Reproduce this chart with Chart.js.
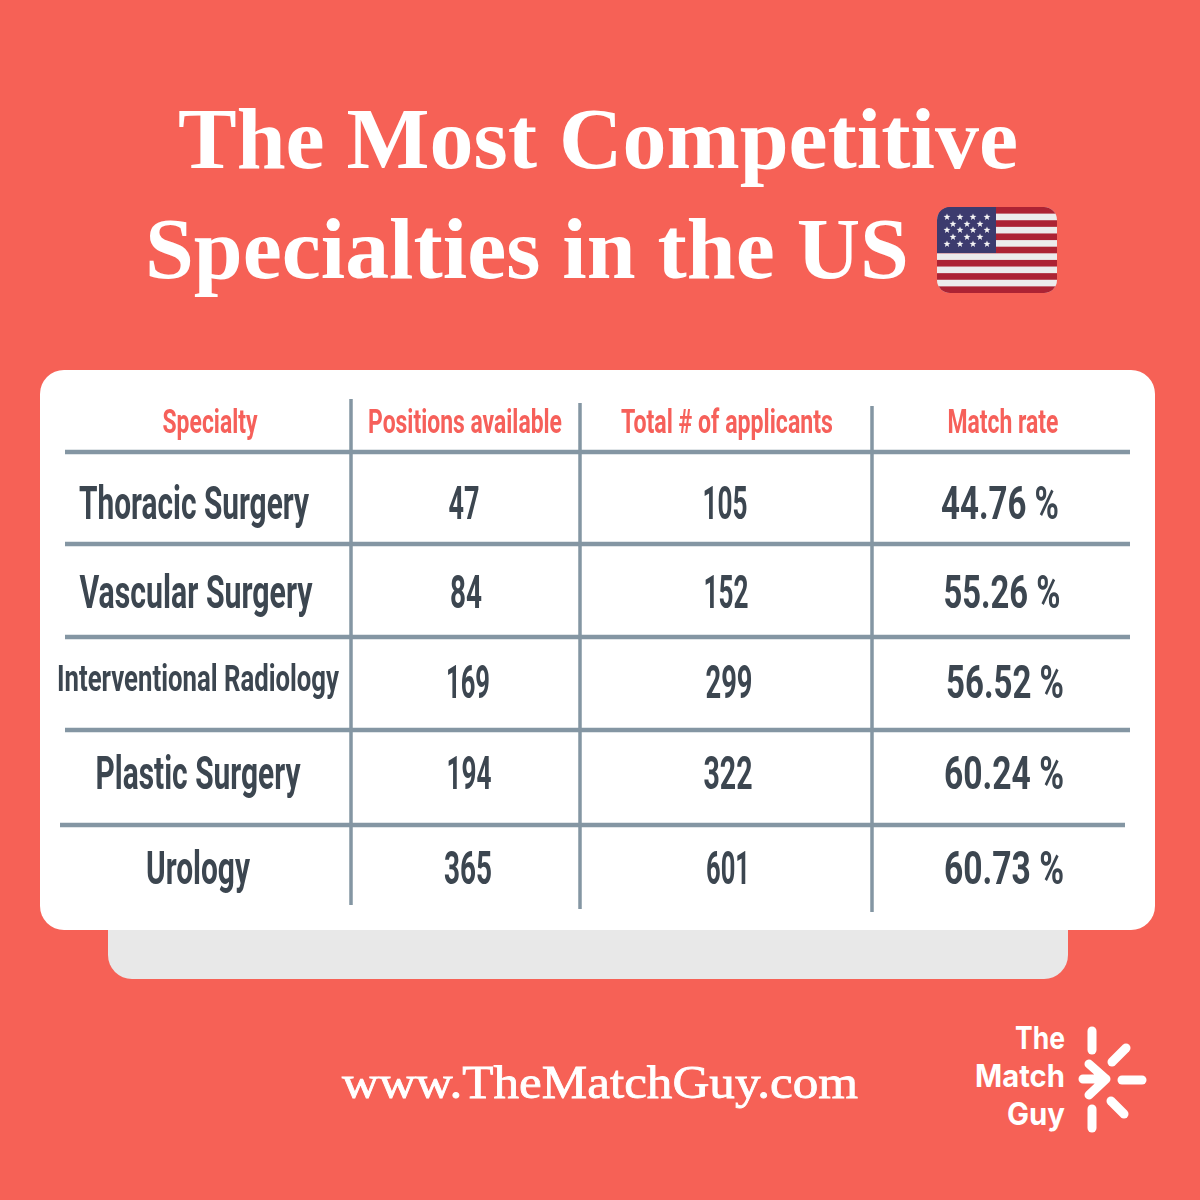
<!DOCTYPE html>
<html>
<head>
<meta charset="utf-8">
<title>The Most Competitive Specialties in the US</title>
<script src="https://cdn.jsdelivr.net/npm/chart.js@4"></script>
<style>
    html, body { margin: 0; padding: 0; width: 1200px; height: 1200px; overflow: hidden; background: #f66156; }
    #decor, #table-chart { position: absolute; left: 0; top: 0; }
    .serif { font-family: "Liberation Serif", serif; fill: #ffffff; }
    .logo { font-family: Inter, Roboto, sans-serif; font-weight: 700; font-size: 31px; fill: #ffffff; }
</style>
</head>
<body>
<svg id="decor" width="1200" height="1200" viewBox="0 0 1200 1200">
    <rect x="108" y="880" width="960" height="99" rx="24" fill="#e8e8e8"/>
    <rect x="40" y="370" width="1115" height="560" rx="24" fill="#ffffff"/>

    <text class="serif" x="178" y="168" font-size="86" font-weight="700" textLength="840" lengthAdjust="spacingAndGlyphs">The Most Competitive</text>
    <text class="serif" x="145" y="278" font-size="86" font-weight="700" textLength="764" lengthAdjust="spacingAndGlyphs">Specialties in the US</text>

    <clipPath id="flag-clip"><rect x="937" y="207" width="120" height="86" rx="13"/></clipPath>
    <g id="flag" clip-path="url(#flag-clip)">
        <rect x="937" y="207" width="120" height="86" fill="#ececec"/>
    </g>

    <text class="serif" x="342" y="1098" font-size="46" textLength="516" lengthAdjust="spacingAndGlyphs" stroke="#ffffff" stroke-width="0.8">www.TheMatchGuy.com</text>

    <text class="logo" x="1065" y="1049" text-anchor="end" textLength="50" lengthAdjust="spacingAndGlyphs">The</text>
    <text class="logo" x="1065" y="1087" text-anchor="end" textLength="90" lengthAdjust="spacingAndGlyphs">Match</text>
    <text class="logo" x="1065" y="1125" text-anchor="end" textLength="58" lengthAdjust="spacingAndGlyphs">Guy</text>
    <g fill="none" stroke="#ffffff" stroke-width="9" stroke-linecap="round" stroke-linejoin="round">
        <path d="M1092 1031V1050"/>
        <path d="M1112 1062L1126 1048"/>
        <path d="M1122 1080H1142"/>
        <path d="M1111 1101L1124 1114"/>
        <path d="M1092 1109V1128"/>
        <path d="M1083 1079H1106M1089 1064L1106 1079L1089 1095"/>
    </g>
</svg>
<canvas id="table-chart" width="1200" height="1200"></canvas>

<script>
// Table content
const headers = ['Specialty', 'Positions available', 'Total # of applicants', 'Match rate'];
const specialties = ['Thoracic Surgery', 'Vascular Surgery', 'Interventional Radiology', 'Plastic Surgery', 'Urology'];
const positions = [47, 84, 169, 194, 365];
const applicants = [105, 152, 299, 322, 601];
const matchRates = [44.76, 55.26, 56.52, 60.24, 60.73];

// Table layout, in canvas units (header row first)
const rowBaselines = [433, 519, 608, 698, 789, 884];
const cellCentres = [
    [210, 194, 196, 198, 198, 198],
    [465, 464, 466, 468, 469, 468],
    [727, 725, 726, 729, 728, 728],
    [1003, 1000, 1002, 1005, 1004, 1004]
];
const cellWidths = [
    [95, 230, 233, 282, 205, 104],
    [194, 31, 32, 44, 45, 48],
    [212, 45, 45, 47, 49, 44],
    [111, 118, 117, 118, 120, 120]
];
const columnRules = [
    { x: 351, from: 399, to: 905 },
    { x: 580, from: 403, to: 909 },
    { x: 872, from: 406, to: 912 }
];
const rowRules = [
    { y: 452, from: 65, to: 1130 },
    { y: 544, from: 65, to: 1130 },
    { y: 637, from: 65, to: 1130 },
    { y: 730, from: 65, to: 1130 },
    { y: 825, from: 60, to: 1125 }
];

// Flag stripes and stars
const flag = document.getElementById('flag');
const svgNs = 'http://www.w3.org/2000/svg';
for (let i = 0; i < 13; i += 2) {
    const stripe = document.createElementNS(svgNs, 'rect');
    stripe.setAttribute('x', 937);
    stripe.setAttribute('y', 207 + i * 86 / 13);
    stripe.setAttribute('width', 120);
    stripe.setAttribute('height', 86 / 13);
    stripe.setAttribute('fill', '#ac2334');
    flag.appendChild(stripe);
}
const canton = document.createElementNS(svgNs, 'rect');
canton.setAttribute('x', 937);
canton.setAttribute('y', 207);
canton.setAttribute('width', 59);
canton.setAttribute('height', 46);
canton.setAttribute('fill', '#3c3b6e');
flag.appendChild(canton);
[217, 224, 230, 237, 244].forEach((sy, row) => {
    const xs = row % 2 === 0 ? [947, 960, 973, 987] : [953, 967, 980];
    xs.forEach((sx) => {
        const star = document.createElementNS(svgNs, 'polygon');
        const pts = [];
        for (let k = 0; k < 10; k++) {
            const r = k % 2 === 0 ? 3.6 : 1.5;
            const a = -Math.PI / 2 + k * Math.PI / 5;
            pts.push((sx + r * Math.cos(a)).toFixed(2) + ',' + (sy + r * Math.sin(a)).toFixed(2));
        }
        star.setAttribute('points', pts.join(' '));
        star.setAttribute('fill', '#f4f4f4');
        flag.appendChild(star);
    });
});

// One text per point of a dataset, condensed to the width of its cell
const cellTextPlugin = {
    id: 'cellText',
    afterDatasetsDraw(chart) {
        const ctx = chart.ctx;
        chart.data.datasets.forEach((ds, d) => {
            if (!ds.cellTexts) return;
            chart.getDatasetMeta(d).data.forEach((pt, i) => {
                const small = ds.cellColumn === 0 && i === 3;
                const size = i === 0 ? 34 : (small ? 36 : 46);
                ctx.save();
                ctx.font = `700 ${size}px Roboto, sans-serif`;
                ctx.fillStyle = i === 0 ? '#f6605a' : '#3c4650';
                ctx.textAlign = 'center';
                ctx.textBaseline = 'alphabetic';
                ctx.fillText(ds.cellTexts[i], pt.x, pt.y - (small ? 7 : 0), cellWidths[ds.cellColumn][i]);
                ctx.restore();
            });
        });
    }
};

const columns = [
    specialties,
    positions.map(String),
    applicants.map(String),
    matchRates.map((v) => v.toFixed(2) + ' %')
];

const cellDatasets = columns.map((col, c) => ({
    type: 'scatter',
    cellColumn: c,
    cellTexts: [headers[c]].concat(col),
    data: rowBaselines.map((y, r) => ({ x: cellCentres[c][r], y: y })),
    pointRadius: 0
}));

const ruleStyle = { type: 'line', borderColor: '#8496a3', pointRadius: 0, fill: false };
const ruleDatasets = columnRules.map((r) => ({
    ...ruleStyle,
    borderWidth: 3.5,
    data: [{ x: r.x, y: r.from }, { x: r.x, y: r.to }]
})).concat(rowRules.map((r) => ({
    ...ruleStyle,
    borderWidth: 4.5,
    data: [{ x: r.from, y: r.y }, { x: r.to, y: r.y }]
})));

new Chart(document.getElementById('table-chart'), {
    type: 'scatter',
    data: { datasets: ruleDatasets.concat(cellDatasets) },
    plugins: [cellTextPlugin],
    options: {
        responsive: false,
        animation: false,
        events: [],
        layout: { padding: 0 },
        plugins: { legend: { display: false }, tooltip: { enabled: false } },
        scales: {
            x: { type: 'linear', display: false, min: 0, max: 1200 },
            y: { type: 'linear', display: false, min: 0, max: 1200, reverse: true }
        }
    }
});
</script>
</body>
</html>
